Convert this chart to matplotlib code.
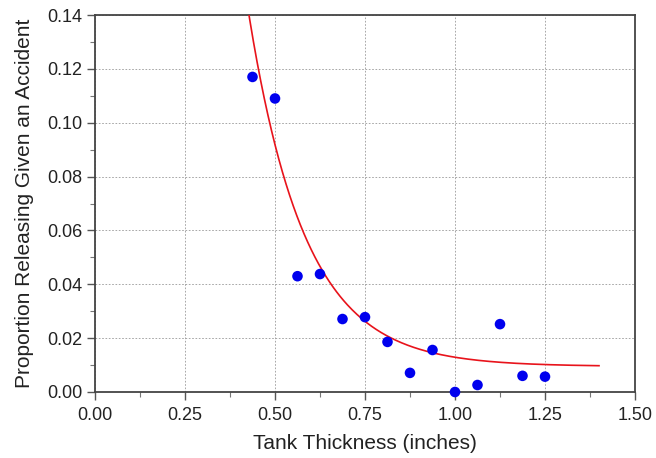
import numpy as np
import matplotlib
matplotlib.use("Agg")
import matplotlib.pyplot as plt
from matplotlib.ticker import MultipleLocator

plt.rcParams['font.family'] = ['Liberation Sans', 'DejaVu Sans']

# observed proportion releasing, by tank thickness
thickness = [0.4375, 0.5, 0.5625, 0.625, 0.6875, 0.75, 0.8125, 0.875,
             0.9375, 1.0, 1.0625, 1.125, 1.1875, 1.25]
proportion = [0.117, 0.109, 0.043, 0.0438, 0.0271, 0.0278, 0.0186, 0.0071,
              0.0156, 0.0, 0.0026, 0.0252, 0.006, 0.0057]

# fitted decay curve  y = c + a * exp(-b * x)
fit_a, fit_b, fit_c = 1.99, 6.37, 0.0095
fit_range = (0.40, 1.40)

fig = plt.figure(figsize=(6.56, 4.58), dpi=100)
ax = fig.add_axes([95 / 656, 1 - 392 / 458, 540 / 656, 377 / 458])

xs = np.linspace(fit_range[0], fit_range[1], 300)
ax.plot(xs, fit_c + fit_a * np.exp(-fit_b * xs), color='#e8131b', lw=1.2, zorder=3)
ax.scatter(thickness, proportion, s=58, color='#0000ee', edgecolors='none',
           zorder=4, clip_on=False)

ax.set_xlim(0, 1.5)
ax.set_ylim(0, 0.14)
ax.xaxis.set_major_locator(MultipleLocator(0.25))
ax.xaxis.set_minor_locator(MultipleLocator(0.125))
ax.yaxis.set_major_locator(MultipleLocator(0.02))
ax.yaxis.set_minor_locator(MultipleLocator(0.01))
ax.xaxis.set_major_formatter(lambda v, p: f"{v:.2f}")
ax.yaxis.set_major_formatter(lambda v, p: f"{v:.2f}")

ax.grid(True, which='major', color='#999999', ls=(0, (2, 2)), lw=0.6)
for s in ax.spines.values():
    s.set_color('#444444')
    s.set_linewidth(1.3)
ax.tick_params(which='major', direction='out', length=6, width=1, color='#555555',
               labelsize=13, labelcolor='#222222')
ax.tick_params(axis='x', which='major', pad=5)
ax.tick_params(axis='y', which='major', pad=3)
ax.tick_params(which='minor', direction='out', length=3.5, width=0.8, color='#777777')

ax.set_xlabel('Tank Thickness (inches)', fontsize=15, color='#222222')
ax.set_ylabel('Proportion Releasing Given an Accident', fontsize=15, color='#222222')
ax.xaxis.set_label_coords(0.5, -0.112)
ax.yaxis.set_label_coords(-0.113, 0.5)

fig.savefig('out.png', dpi=100)
